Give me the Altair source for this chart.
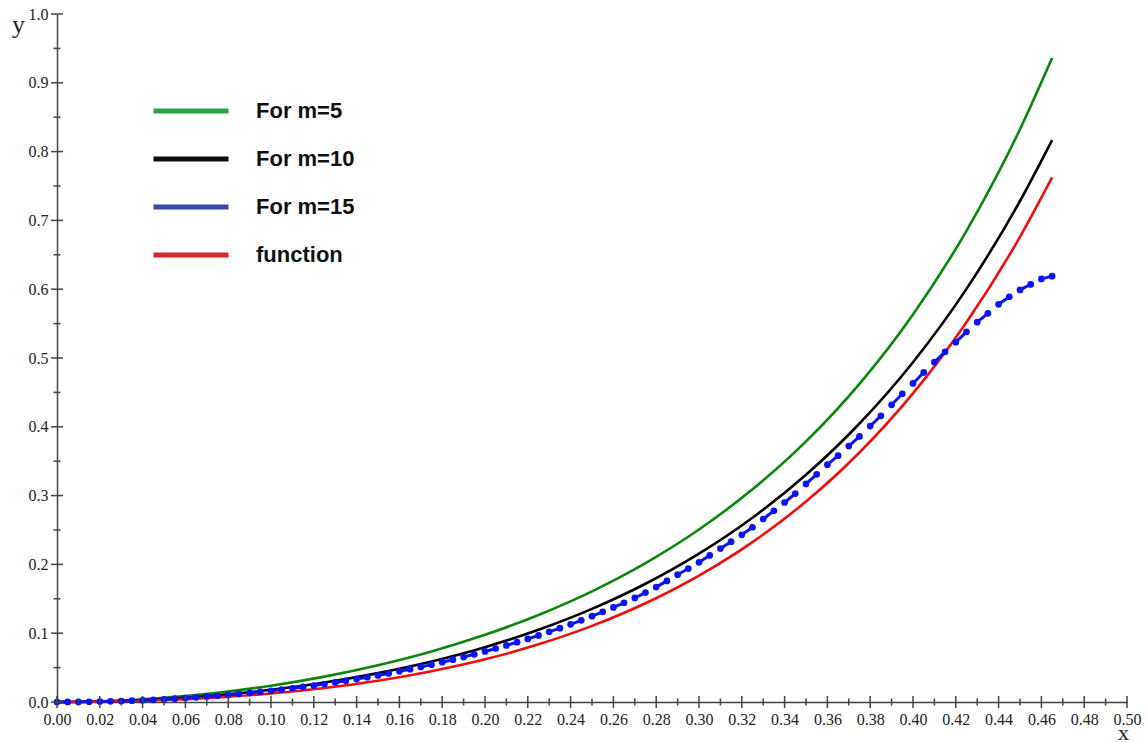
import altair as alt
import pandas as pd

# ---------------- data ----------------
x_line = [0.0, 0.025, 0.05, 0.075, 0.1, 0.125, 0.15, 0.175, 0.2, 0.225,
          0.25, 0.275, 0.3, 0.325, 0.35, 0.375, 0.4, 0.425, 0.45, 0.465]
green_m5 = [0.0, 0.0015, 0.0061, 0.0134, 0.0237, 0.0369, 0.0534, 0.0734, 0.0976, 0.1265,
            0.1609, 0.2019, 0.2508, 0.3091, 0.3788, 0.4625, 0.5633, 0.6849, 0.8324, 0.9359]
black_m10 = [0.0, 0.0011, 0.0043, 0.0098, 0.0178, 0.0284, 0.0420, 0.0589, 0.0797, 0.1050,
             0.1354, 0.1719, 0.2157, 0.2679, 0.3303, 0.4048, 0.4939, 0.6005, 0.7282, 0.8167]
red_function = [0.0, 0.0007, 0.0028, 0.0066, 0.0123, 0.0203, 0.0309, 0.0447, 0.0620, 0.0838,
                0.1106, 0.1435, 0.1837, 0.2324, 0.2914, 0.3627, 0.4485, 0.5519, 0.6762, 0.7626]

x_blue = [0.0, 0.005, 0.01, 0.015, 0.02, 0.025, 0.03, 0.035, 0.04, 0.045,
          0.05, 0.055, 0.06, 0.065, 0.07, 0.075, 0.08, 0.085, 0.09, 0.095,
          0.1, 0.105, 0.11, 0.115, 0.12, 0.125, 0.13, 0.135, 0.14, 0.145,
          0.15, 0.155, 0.16, 0.165, 0.17, 0.175, 0.18, 0.185, 0.19, 0.195,
          0.2, 0.205, 0.21, 0.215, 0.22, 0.225, 0.23, 0.235, 0.24, 0.245,
          0.25, 0.255, 0.26, 0.265, 0.27, 0.275, 0.28, 0.285, 0.29, 0.295,
          0.3, 0.305, 0.31, 0.315, 0.32, 0.325, 0.33, 0.335, 0.34, 0.345,
          0.35, 0.355, 0.36, 0.365, 0.37, 0.375, 0.38, 0.385, 0.39, 0.395,
          0.4, 0.405, 0.41, 0.415, 0.42, 0.425, 0.43, 0.435, 0.44, 0.445,
          0.45, 0.455, 0.46, 0.465]
blue_m15 = [0.0, 0.00004, 0.00016, 0.00035, 0.00063, 0.00098, 0.00142, 0.00193, 0.00253, 0.00321,
            0.00397, 0.00481, 0.00574, 0.00676, 0.00786, 0.00905, 0.01033, 0.01171, 0.01317, 0.01473,
            0.01638, 0.01812, 0.01997, 0.02191, 0.0240, 0.02616, 0.02844, 0.03083, 0.03333, 0.03595,
            0.03869, 0.04155, 0.04454, 0.04766, 0.05092, 0.05431, 0.05784, 0.06152, 0.06535, 0.06933,
            0.07347, 0.07778, 0.08225, 0.0869, 0.09173, 0.09673, 0.10194, 0.10734, 0.11293, 0.11875,
            0.12478, 0.13103, 0.13751, 0.14425, 0.15121, 0.159, 0.167, 0.176, 0.185, 0.194,
            0.203, 0.213, 0.223, 0.233, 0.243, 0.254, 0.266, 0.278, 0.290, 0.303,
            0.317, 0.331, 0.345, 0.358, 0.372, 0.386, 0.401, 0.416, 0.432, 0.448,
            0.463, 0.479, 0.494, 0.509, 0.523, 0.538, 0.552, 0.565, 0.578, 0.589,
            0.599, 0.607, 0.615, 0.619]

series_names = ["For m=5", "For m=10", "For m=15", "function"]

x_major = [0.0, 0.02, 0.04, 0.06, 0.08, 0.1, 0.12, 0.14, 0.16, 0.18, 0.2, 0.22, 0.24,
           0.26, 0.28, 0.3, 0.32, 0.34, 0.36, 0.38, 0.4, 0.42, 0.44, 0.46, 0.48, 0.5]
x_minor = [0.01, 0.03, 0.05, 0.07, 0.09, 0.11, 0.13, 0.15, 0.17, 0.19, 0.21, 0.23, 0.25,
           0.27, 0.29, 0.31, 0.33, 0.35, 0.37, 0.39, 0.41, 0.43, 0.45, 0.47, 0.49]
y_major = [0.0, 0.1, 0.2, 0.3, 0.4, 0.5, 0.6, 0.7, 0.8, 0.9, 1.0]
y_minor = [0.05, 0.15, 0.25, 0.35, 0.45, 0.55, 0.65, 0.75, 0.85, 0.95]

# ---------------- tables ----------------
lines_df = pd.DataFrame({
    "x": x_line * 3,
    "y": green_m5 + black_m10 + red_function,
    "series": [series_names[0]] * len(x_line) + [series_names[1]] * len(x_line)
              + [series_names[3]] * len(x_line),
})
blue_df = pd.DataFrame({"x": x_blue, "y": blue_m15})
blue_df["pair"] = [i // 2 for i in range(len(blue_df))]

xmaj_df = pd.DataFrame({"x": x_major, "y": [0.0] * len(x_major)})
xmin_df = pd.DataFrame({"x": x_minor, "y": [0.0] * len(x_minor)})
ymaj_df = pd.DataFrame({"y": y_major, "x": [0.0] * len(y_major)})
ymin_df = pd.DataFrame({"y": y_minor, "x": [0.0] * len(y_minor)})

# ---------------- styling ----------------
AXIS_COL = "#444444"
SERIF = "Liberation Serif"

xscale = alt.Scale(domain=[0, 0.5], nice=False, zero=False)
yscale = alt.Scale(domain=[0, 1.0], nice=False, zero=False)

xaxis = alt.Axis(values=x_major, format=".2f", grid=False, ticks=False, tickSize=0,
                 domainColor=AXIS_COL, domainWidth=1.5, labelFont=SERIF, labelFontSize=16,
                 labelColor="#222", labelPadding=9, labelFlush=False, labelOverlap=False,
                 title="x", titleFont=SERIF, titleFontSize=22, titleFontWeight="normal",
                 titleColor="#222", titleX=1066, titleY=37, titleAlign="center",
                 titleBaseline="alphabetic")
yaxis = alt.Axis(values=y_major, format=".1f", grid=False, ticks=False, tickSize=0,
                 domainColor=AXIS_COL, domainWidth=1.5, labelFont=SERIF, labelFontSize=16,
                 labelColor="#222", labelPadding=9, labelFlush=False, labelOverlap=False,
                 title="y", titleFont=SERIF, titleFontSize=26, titleFontWeight="normal",
                 titleColor="#222", titleAngle=0, titleX=-39, titleY=18,
                 titleAlign="center", titleBaseline="alphabetic")

X = alt.X("x:Q", scale=xscale, axis=xaxis)
Y = alt.Y("y:Q", scale=yscale, axis=yaxis)

curves = alt.Chart(lines_df).mark_line(strokeWidth=2.6, interpolate="monotone").encode(
    x=X, y=Y,
    color=alt.Color("series:N",
                    scale=alt.Scale(domain=[series_names[0], series_names[1], series_names[3]],
                                    range=["#0b850b", "#000000", "#f20d0d"]),
                    legend=None),
)

blue_segments = alt.Chart(blue_df).mark_line(strokeWidth=3, color="#0a14f5").encode(
    x="x:Q", y="y:Q", detail="pair:O")
blue_points = alt.Chart(blue_df).mark_circle(size=45, opacity=1, color="#0a14f5").encode(
    x="x:Q", y="y:Q")

legend_layer = alt.Chart(lines_df).mark_line(opacity=0).encode(
    x="x:Q", y="y:Q",
    color=alt.Color("series:N",
                    scale=alt.Scale(domain=series_names,
                                    range=["#27a348", "#0d0d0d", "#3949ab", "#d7262f"]),
                    legend=alt.Legend(title=None, orient="none", legendX=119, legendY=82,
                                      symbolType="M-3,0H3", symbolSize=625,
                                      symbolStrokeWidth=5, symbolOpacity=1,
                                      labelFont="Liberation Sans", labelFontWeight="bold",
                                      labelFontSize=22, labelColor="#111",
                                      labelOffset=50, rowPadding=22, padding=0,
                                      labelLimit=300)),
)

tick_x_major = alt.Chart(xmaj_df).mark_tick(orient="vertical", size=12, thickness=1.5,
                                            color=AXIS_COL, opacity=1).encode(x="x:Q", y="y:Q")
tick_x_minor = alt.Chart(xmin_df).mark_tick(orient="vertical", size=7, thickness=1.5,
                                            color=AXIS_COL, opacity=1).encode(x="x:Q", y="y:Q")
tick_y_major = alt.Chart(ymaj_df).mark_tick(orient="horizontal", size=12, thickness=1.5,
                                            color=AXIS_COL, opacity=1).encode(x="x:Q", y="y:Q")
tick_y_minor = alt.Chart(ymin_df).mark_tick(orient="horizontal", size=7, thickness=1.5,
                                            color=AXIS_COL, opacity=1).encode(x="x:Q", y="y:Q")

chart = alt.layer(
    curves, legend_layer, blue_segments, blue_points,
    tick_x_major, tick_x_minor, tick_y_major, tick_y_minor,
).resolve_scale(color="independent").properties(
    width=1070, height=688,
    autosize=alt.AutoSizeParams(type="none"),
    padding={"left": 57, "top": 14, "right": 19, "bottom": 41},
    background="white",
).configure_view(stroke=None)

chart.save("out.html", embed_options={"renderer": "svg", "actions": False})
